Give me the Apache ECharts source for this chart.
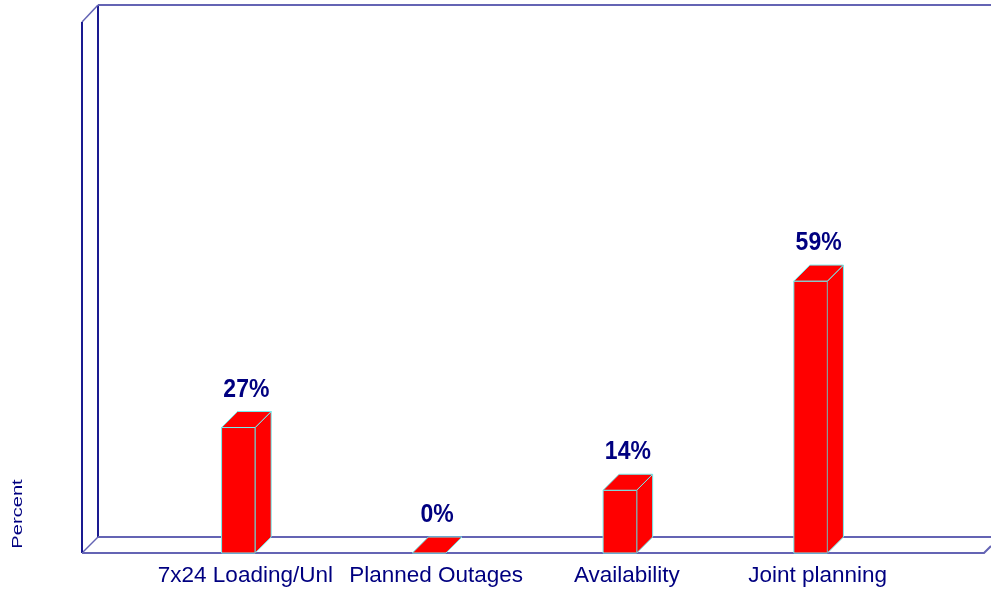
<!DOCTYPE html>
<html>
<head>
<meta charset="utf-8">
<script src="https://cdn.jsdelivr.net/npm/echarts@6/dist/echarts.min.js"></script>
<style>html,body{margin:0;padding:0;background:#fff;}#c{width:991px;height:597px;}</style>
</head>
<body>
<div id="c"></div>
<script>
const categories = ['7x24 Loading/Unl', 'Planned Outages', 'Availability', 'Joint planning'];
const values = [27.27, 0, 13.64, 59.09];
const axisName = 'Percent';

const NAVY = '#000080';
const FRAME = '#6464b4';
const DEPTH = 16;

const chart = echarts.init(document.getElementById('c'), null, {renderer: 'canvas'});

function renderBox(params, api) {
  const i = api.value(0), v = api.value(1);
  const top = api.coord([i, v]);
  const base = api.coord([i, 0]);
  const w = api.size([1, 0])[0] * 0.176;
  const x0 = top[0] - w / 2, x1 = top[0] + w / 2;
  const yt = top[1], yb = base[1];
  const d = DEPTH;
  const children = [];
  const edge = {stroke: '#70f0f0', lineWidth: 1};
  if (yb - yt > 0.5) {
    children.push({type: 'polygon', shape: {points: [[x1, yb], [x1 + d, yb - d], [x1 + d, yt - d], [x1, yt]]},
      style: Object.assign({fill: '#ff0000'}, edge)});
    children.push({type: 'rect', shape: {x: x0, y: yt, width: w, height: yb - yt},
      style: Object.assign({fill: '#ff0000'}, edge)});
    children.push({type: 'line', shape: {x1: x1, y1: yt, x2: x1, y2: yb}, style: {stroke: '#909090', lineWidth: 1}});
  }
  children.push({type: 'polygon', shape: {points: [[x0, yt], [x0 + d, yt - d], [x1 + d, yt - d], [x1, yt]]},
    style: Object.assign({fill: '#ff0000'}, edge)});
  children.push({type: 'text', x: (x0 + x1) / 2 + d / 2, y: yt - d - 9, scaleY: 1.12, style: {
    text: Math.round(v) + '%', x: 0, y: 0,
    align: 'center', verticalAlign: 'bottom',
    fontFamily: 'Liberation Sans, Arial, sans-serif', fontWeight: 'bold', fontSize: 23, fill: NAVY
  }});
  return {type: 'group', children: children};
}

const line = (pts, color, lw) => ({type: 'polyline', shape: {points: pts}, style: {stroke: color, lineWidth: lw, fill: null}, silent: true});

chart.setOption({
  animation: false,
  backgroundColor: '#ffffff',
  grid: {left: 143, right: 85, top: 22, bottom: 44},
  xAxis: {
    type: 'category', data: categories,
    axisLine: {show: false}, axisTick: {show: false}, splitLine: {show: false},
    axisLabel: {color: NAVY, fontSize: 22.5, fontFamily: 'Liberation Sans, Arial, sans-serif', margin: 11, padding: [0, 0, 0, 14], interval: 0}
  },
  yAxis: {type: 'value', min: 0, max: 115.4, show: false},
  graphic: [
    line([[98, 537], [98, 5]], '#1a1a90', 2),
    line([[98, 5], [991, 5]], FRAME, 2),
    line([[98, 537], [991, 537]], FRAME, 2),
    line([[82, 22], [98, 5]], FRAME, 1.5),
    line([[82, 553], [98, 537]], FRAME, 1.5),
    line([[82, 22], [82, 553]], '#1a1a90', 2),
    line([[82, 553], [984, 553], [991, 546]], FRAME, 2),
    {type: 'text', x: 18, y: 514, rotation: Math.PI / 2, scaleX: 1.3,
     style: {text: axisName, align: 'center', verticalAlign: 'middle', fontSize: 15.5,
             fontFamily: 'Liberation Sans, Arial, sans-serif', fill: NAVY}}
  ],
  series: [{
    type: 'custom', renderItem: renderBox, z: 5,
    data: values.map((v, i) => [i, v])
  }]
});
</script>
</body>
</html>
